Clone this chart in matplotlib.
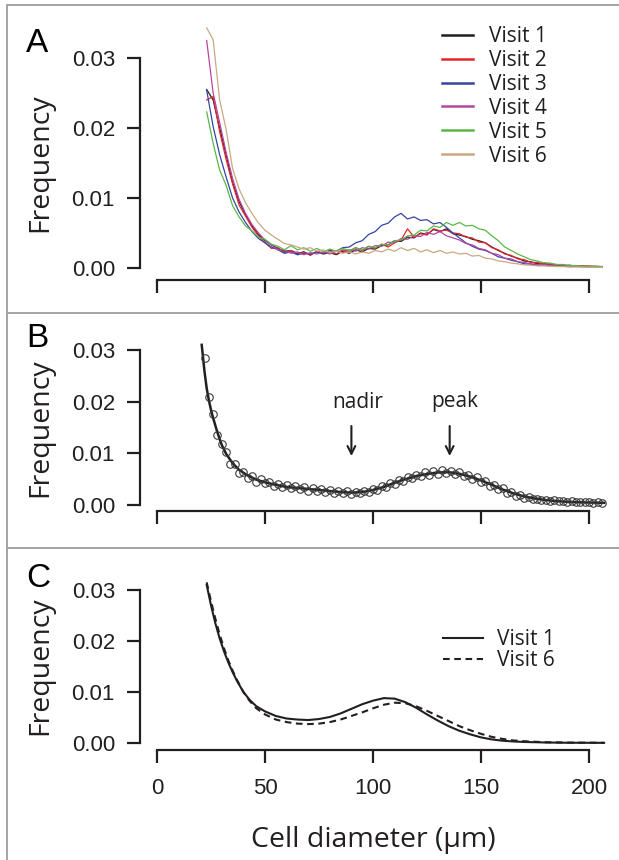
import matplotlib
matplotlib.use("Agg")
import matplotlib.pyplot as plt
from matplotlib.lines import Line2D
import numpy as np

# ---------------- DATA ----------------
# Panel A: observed frequency distributions (units of 1e-3), diameter grid in um
diam_a = [23, 26, 29, 32, 35, 38, 41, 44, 47, 50, 53, 56, 59, 62, 65, 68, 71, 74, 77, 80,
          83, 86, 89, 92, 95, 98, 101, 104, 107, 110, 113, 116, 119, 122, 125, 128, 131, 134,
          137, 140, 143, 146, 149, 152, 155, 158, 161, 164, 167, 170, 173, 176, 179, 182, 185,
          188, 191, 194, 197, 200, 203, 206]
visit1 = [25.5, 24.0, 20.0, 16.2, 12.2, 9.5, 7.6, 6.0, 4.8, 3.9, 3.3, 2.8, 2.4, 2.5, 2.1, 2.3,
          1.9, 2.3, 2.0, 2.2, 1.9, 2.4, 2.1, 2.6, 2.3, 2.8, 2.7, 3.2, 3.3, 3.9, 3.8, 4.4, 4.3,
          5.0, 4.8, 5.5, 5.2, 5.6, 4.9, 4.7, 4.5, 4.1, 3.9, 3.6, 3.0, 2.5, 2.1, 1.7, 1.4, 1.0,
          0.9, 0.6, 0.7, 0.45, 0.5, 0.3, 0.4, 0.25, 0.3, 0.2, 0.25, 0.2]
visit2 = [24.0, 24.5, 19.5, 15.5, 12.0, 9.0, 7.4, 5.8, 4.6, 3.6, 2.8, 2.9, 2.2, 2.5, 1.9, 2.3,
          1.8, 2.4, 2.1, 2.5, 2.0, 2.6, 2.3, 2.9, 2.5, 3.1, 2.8, 3.4, 3.0, 3.6, 4.0, 5.6, 4.4,
          4.9, 4.7, 5.6, 5.3, 5.4, 5.0, 4.9, 4.4, 4.3, 3.7, 3.6, 2.9, 2.6, 2.0, 1.8, 1.3, 1.2,
          0.8, 0.8, 0.55, 0.6, 0.4, 0.45, 0.3, 0.35, 0.25, 0.3, 0.2, 0.2]
visit3 = [25.4, 20.2, 16.2, 13.0, 10.0, 8.0, 6.5, 5.2, 4.2, 3.6, 3.0, 2.6, 2.1, 2.3, 1.9, 2.1,
          2.0, 2.3, 2.1, 2.5, 2.4, 2.9, 3.0, 3.6, 3.9, 4.8, 5.2, 6.1, 6.4, 7.3, 7.8, 7.0, 7.3,
          6.8, 6.9, 6.3, 6.5, 5.8, 5.0, 4.3, 3.6, 3.1, 2.7, 2.5, 2.1, 1.6, 1.4, 1.1, 0.9, 0.6,
          0.55, 0.4, 0.4, 0.3, 0.3, 0.25, 0.2, 0.25, 0.2, 0.15, 0.2, 0.15]
visit4 = [32.5, 25.0, 20.8, 16.5, 12.8, 9.8, 7.8, 6.2, 5.0, 4.0, 3.3, 2.6, 2.6, 2.1, 2.3, 1.9,
          2.2, 2.0, 2.3, 2.0, 2.4, 2.2, 2.6, 2.4, 2.9, 2.7, 3.2, 3.1, 3.7, 3.6, 4.2, 4.1, 4.6,
          4.5, 5.1, 4.8, 5.2, 4.6, 4.3, 4.0, 3.5, 3.3, 2.8, 2.6, 2.1, 1.9, 1.4, 1.3, 0.9, 0.8,
          0.6, 0.5, 0.4, 0.4, 0.3, 0.3, 0.25, 0.2, 0.2, 0.2, 0.15, 0.15]
visit5 = [22.3, 17.8, 14.0, 11.8, 8.9, 7.3, 6.0, 5.3, 4.4, 4.1, 3.4, 3.1, 2.6, 3.2, 2.6, 2.9,
          2.4, 2.8, 2.3, 2.7, 2.4, 2.8, 2.5, 2.9, 2.6, 3.1, 2.9, 3.4, 3.3, 3.9, 4.0, 4.6, 4.7,
          5.4, 5.3, 6.0, 5.8, 6.5, 6.1, 6.5, 6.0, 6.1, 5.6, 5.4, 4.6, 3.9, 3.0, 2.5, 2.0, 1.6,
          1.2, 1.0, 0.75, 0.7, 0.5, 0.5, 0.35, 0.35, 0.25, 0.25, 0.2, 0.2]
visit6 = [34.3, 32.6, 24.0, 19.8, 14.2, 11.3, 9.3, 7.8, 6.4, 5.4, 4.7, 4.1, 3.5, 3.3, 3.0, 2.7,
          2.9, 2.4, 2.6, 2.2, 2.4, 2.1, 2.3, 2.0, 2.3, 2.1, 2.5, 2.3, 2.7, 2.4, 2.9, 2.5, 2.8,
          2.3, 2.6, 2.2, 2.5, 2.1, 2.3, 2.0, 2.1, 1.7, 1.8, 1.4, 1.3, 1.0, 0.9, 0.7, 0.6, 0.45,
          0.4, 0.3, 0.3, 0.25, 0.2, 0.2, 0.15, 0.15, 0.15, 0.1, 0.1, 0.1]
visit_labels = ["Visit 1", "Visit 2", "Visit 3", "Visit 4", "Visit 5", "Visit 6"]
visit_colors = ["#231f20", "#e3262b", "#3446a0", "#b547a3", "#5ab747", "#c9a883"]

# Panel B: Visit 1 binned data (circles) and fitted curve (units of 1e-3)
diam_b = [22, 24, 26, 28, 30, 32, 34, 36, 38, 40, 42, 44, 46, 48, 50, 52, 54, 56, 58, 60, 62,
          64, 66, 68, 70, 72, 74, 76, 78, 80, 82, 84, 86, 88, 90, 92, 94, 96, 98, 100, 102,
          104, 106, 108, 110, 112, 114, 116, 118, 120, 122, 124, 126, 128, 130, 132, 134, 136,
          138, 140, 142, 144, 146, 148, 150, 152, 154, 156, 158, 160, 162, 164, 166, 168, 170,
          172, 174, 176, 178, 180, 182, 184, 186, 188, 190, 192, 194, 196, 198, 200, 202, 204,
          206]
obs_b = [28.4, 20.9, 17.6, 13.5, 11.9, 10.3, 8.0, 7.9, 6.2, 6.4, 5.2, 5.6, 4.5, 5.0, 4.2, 4.5,
         3.7, 4.1, 3.5, 3.9, 3.2, 3.6, 3.0, 3.4, 2.8, 3.3, 2.7, 3.1, 2.5, 2.9, 2.4, 2.8, 2.3,
         2.7, 2.2, 2.6, 2.3, 2.8, 2.5, 3.1, 2.9, 3.7, 3.5, 4.3, 4.0, 4.9, 4.6, 5.5, 5.2, 5.9,
         5.6, 6.3, 5.8, 6.6, 6.0, 6.7, 6.1, 6.6, 6.0, 6.3, 5.6, 5.9, 5.0, 5.4, 4.4, 4.7, 3.7,
         3.9, 3.0, 3.2, 2.3, 2.5, 1.8, 1.9, 1.3, 1.5, 1.1, 1.2, 0.9, 1.0, 0.8, 0.9, 0.7, 0.75,
         0.6, 0.7, 0.5, 0.6, 0.5, 0.55, 0.45, 0.5, 0.4]
fit_x = [20.7, 22, 23, 24, 25, 26, 28, 30, 32, 35, 38, 42, 46, 50, 55, 60, 65, 70, 75, 80, 85,
         90, 95, 100, 105, 110, 115, 120, 125, 130, 135, 140, 145, 150, 155, 160, 165, 170,
         175, 180, 185, 190, 195, 200, 207]
fit_y = [31.0, 25.8, 22.6, 20.3, 18.4, 16.8, 14.0, 11.6, 9.9, 8.1, 6.8, 5.7, 4.9, 4.4, 3.9,
         3.5, 3.3, 3.1, 2.9, 2.7, 2.5, 2.4, 2.5, 2.9, 3.5, 4.3, 5.0, 5.6, 6.0, 6.3, 6.35, 6.05,
         5.5, 4.75, 3.9, 3.0, 2.25, 1.65, 1.25, 0.95, 0.75, 0.62, 0.53, 0.48, 0.42]
nadir_x, peak_x = 90, 135.5

# Panel C: fitted curves, Visit 1 vs Visit 6 (units of 1e-3)
diam_c = [23, 25, 27, 29, 31, 33, 35, 37, 40, 43, 46, 50, 55, 60, 65, 70, 75, 80, 85, 90, 95,
          100, 105, 110, 115, 120, 125, 130, 135, 140, 145, 150, 155, 160, 165, 170, 180, 190,
          207]
fit_v1 = [31.0, 27.0, 23.5, 20.5, 18.0, 15.8, 13.9, 12.2, 10.0, 8.4, 7.2, 6.2, 5.3, 4.8, 4.6,
          4.5, 4.7, 5.1, 5.8, 6.7, 7.6, 8.3, 8.8, 8.7, 8.0, 6.9, 5.6, 4.4, 3.3, 2.4, 1.7, 1.1,
          0.7, 0.45, 0.3, 0.2, 0.1, 0.05, 0.03]
fit_v6 = [31.5, 27.8, 24.4, 21.3, 18.6, 16.2, 14.2, 12.4, 10.0, 8.2, 6.8, 5.6, 4.6, 4.1, 3.8,
          3.7, 3.8, 4.1, 4.6, 5.3, 6.0, 6.8, 7.5, 7.9, 7.8, 7.2, 6.3, 5.3, 4.3, 3.3, 2.5, 1.8,
          1.2, 0.8, 0.5, 0.35, 0.15, 0.08, 0.04]

y_ticks = [0.0, 0.01, 0.02, 0.03]
y_ticklabels = ["0.00", "0.01", "0.02", "0.03"]
x_ticks = [0, 50, 100, 150, 200]
x_ticklabels = ["0", "50", "100", "150", "200"]

# ---------------- STYLE ----------------
W, H = 619, 860
DARK = "#231f20"
LABEL_FONT = ["Open Sans", "DejaVu Sans"]
TICK_FONT = ["Liberation Sans", "DejaVu Sans"]

fig = plt.figure(figsize=(W / 100, H / 100), dpi=100)


def px_axes(left, right, top, bottom):
    return fig.add_axes([left / W, 1 - bottom / H, (right - left) / W, (bottom - top) / H])


XLIM = ((140 - 157) / 2.16, (610 - 157) / 2.16)


def style(ax, ylim, show_xlabels):
    ax.set_xlim(*XLIM)
    ax.set_ylim(*ylim)
    for s in ("top", "right"):
        ax.spines[s].set_visible(False)
    ax.spines["left"].set_bounds(0, 0.03)
    ax.spines["bottom"].set_bounds(0, 200)
    for s in ("left", "bottom"):
        ax.spines[s].set_linewidth(1.6)
        ax.spines[s].set_color(DARK)
    ax.set_yticks(y_ticks)
    ax.set_yticklabels(y_ticklabels, fontfamily=TICK_FONT, fontsize=16, color=DARK)
    ax.set_xticks(x_ticks)
    if show_xlabels:
        ax.set_xticklabels(x_ticklabels, fontfamily=TICK_FONT, fontsize=16, color=DARK)
    else:
        ax.set_xticklabels([])
    ax.tick_params(axis="both", direction="out", length=9.5, width=1.6, color=DARK)
    ax.tick_params(axis="y", pad=8.5)
    ax.tick_params(axis="x", pad=11)
    ax.patch.set_alpha(0)


scale = 1e-3

# Panel A
axA = px_axes(140, 610, 20, 280)
style(axA, (-12 / 7000, (268 - 20) / 7000), False)
series = [visit1, visit2, visit3, visit4, visit5, visit6]
for vals, lab, col in zip(series, visit_labels, visit_colors):
    axA.plot(diam_a, np.array(vals) * scale, color=col, lw=0.9, label=lab)
leg = axA.legend(loc="upper left", bbox_to_anchor=(442 / W, 1 - 26 / H),
                 bbox_transform=fig.transFigure, frameon=False, borderpad=0,
                 borderaxespad=0, handlelength=1.5, handletextpad=0.75,
                 labelspacing=0.14, prop={"family": LABEL_FONT, "size": 15})
for h in leg.get_lines():
    h.set_linewidth(1.8)
for t in leg.get_texts():
    t.set_color(DARK)

# Panel B
axB = px_axes(140, 610, 340, 511)
style(axB, (-6 / 5167, (505 - 340) / 5167), False)
axB.plot(fit_x, np.array(fit_y) * scale, color=DARK, lw=1.8, zorder=2)
axB.plot(diam_b, np.array(obs_b) * scale, "o", mfc="none", mec="#3a3a3a", mew=0.8,
         ms=5.4, zorder=3, clip_on=False)
for xv, lab, dx in ((nadir_x, "nadir", 2.8), (peak_x, "peak", 2.5)):
    axB.annotate("", xy=(xv, (505 - 456) / 5167), xytext=(xv, (505 - 426) / 5167),
                 arrowprops=dict(arrowstyle="->,head_length=0.55,head_width=0.28",
                                 lw=1.5, color=DARK, shrinkA=0, shrinkB=0))
    axB.text(xv + dx, (505 - 402) / 5167, lab, ha="center", va="center",
             fontfamily=LABEL_FONT, fontsize=15, color=DARK)

# Panel C
axC = px_axes(140, 610, 580, 750)
style(axC, (-7 / 5100, (743 - 580) / 5100), True)
axC.plot(diam_c, np.array(fit_v1) * scale, color=DARK, lw=1.5, ls="-", label="Visit 1")
axC.plot(diam_c, np.array(fit_v6) * scale, color=DARK, lw=1.5, ls=(0, (3.2, 2.2)),
         label="Visit 6")
legC = axC.legend(loc="upper left", bbox_to_anchor=(443 / W, 1 - 629 / H),
                  bbox_transform=fig.transFigure, frameon=False, borderpad=0,
                  borderaxespad=0, handlelength=1.9, handletextpad=0.7,
                  labelspacing=0.02, prop={"family": LABEL_FONT, "size": 15})
for t in legC.get_texts():
    t.set_color(DARK)

# Panel letters and axis labels
for letter, base in (("A", 52), ("B", 347), ("C", 587)):
    fig.text(26 / W, 1 - base / H, letter, ha="left", va="baseline",
             fontfamily=TICK_FONT, fontsize=24, color="black")
for center in (163, 427.5, 666):
    fig.text(40 / W, 1 - center / H, "Frequency", rotation=90, ha="center", va="center",
             fontfamily=LABEL_FONT, fontsize=20.5, color=DARK)
fig.text(373 / W, 1 - 847 / H, "Cell diameter (\u03bcm)", ha="center", va="baseline",
         fontfamily=LABEL_FONT, fontsize=20.5, color=DARK)

# Panel frame lines
border = "#a3a3a3"
for y in (5, 313, 548):
    fig.add_artist(Line2D([7 / W, 1], [1 - y / H, 1 - y / H], transform=fig.transFigure,
                          color=border, lw=1.4))
fig.add_artist(Line2D([7 / W, 7 / W], [0, 1 - 5 / H], transform=fig.transFigure,
                      color=border, lw=1.4))

fig.savefig("out.png", dpi=100, facecolor="white")
